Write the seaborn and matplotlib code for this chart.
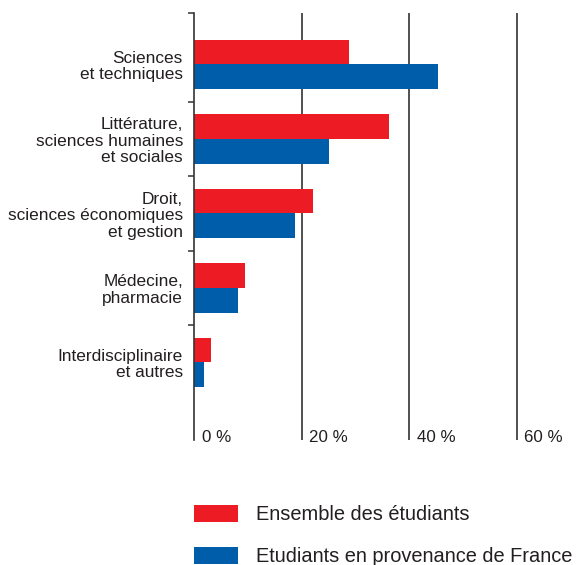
import matplotlib
matplotlib.use("Agg")
import matplotlib.pyplot as plt
import matplotlib.transforms as mtransforms
import seaborn as sns
import pandas as pd

categories = ["Sciences\net techniques",
              "Littérature,\nsciences humaines\net sociales",
              "Droit,\nsciences économiques\net gestion",
              "Médecine,\npharmacie",
              "Interdisciplinaire\net autres"]
series = ["Ensemble des étudiants", "Etudiants en provenance de France"]
ensemble = [28.9, 36.2, 22.1, 9.4, 3.1]
france = [45.4, 25.2, 18.7, 8.1, 1.9]
x_ticks = [0, 20, 40, 60]
x_tick_labels = ["0 %", "20 %", "40 %", "60 %"]
colors = ["#ED1C24", "#005DAA"]

df = pd.DataFrame({
    "cat": categories * 2,
    "serie": [series[0]] * len(categories) + [series[1]] * len(categories),
    "val": ensemble + france,
})

sns.set_theme(style="white")
plt.rcParams["font.family"] = ["Liberation Sans", "DejaVu Sans"]
text_color = "#231F20"

W, H = 578, 565
fig = plt.figure(figsize=(W / 100, H / 100), dpi=100)
ax_left, ax_right, ax_top, ax_bottom = 194, 543.4, 13, 440
ax = fig.add_axes([ax_left / W, 1 - ax_bottom / H,
                   (ax_right - ax_left) / W, (ax_bottom - ax_top) / H])

sns.barplot(data=df, y="cat", x="val", hue="serie", orient="h",
            palette=colors, width=0.66, gap=0, linewidth=0, ax=ax,
            order=categories, hue_order=series, saturation=1)

ax.set_xlim(0, 65)
ax.set_ylim(5.04, -0.69)
for s in ["top", "right", "bottom"]:
    ax.spines[s].set_visible(False)
ax.spines["left"].set_color("#333333")
ax.spines["left"].set_linewidth(1.2)

# gridlines
ax.set_xticks(x_ticks)
ax.set_xticklabels([])
ax.tick_params(axis="x", length=0)
for v in x_ticks[1:]:
    ax.axvline(v, color="#333333", lw=1.2, zorder=0)

# x labels to the right of lines at bottom
for v, lab in zip(x_ticks, x_tick_labels):
    tr = mtransforms.offset_copy(ax.get_xaxis_transform(), fig=fig, x=5.5, y=-1.5, units="points")
    ax.text(v, 0, lab, transform=tr, ha="left", va="baseline",
            fontsize=12.2, color=text_color)

# y ticks: major at boundaries, labels at centers
ax.set_yticks([-0.69, 0.5, 1.5, 2.5, 3.5])
ax.set_yticklabels([])
ax.tick_params(axis="y", which="major", length=4.5, width=1.1, color="#333333", left=True)
ax.set_yticks(range(len(categories)), minor=True)
ax.tick_params(axis="y", which="minor", length=0, pad=8)
ax.set_yticklabels(categories, minor=True, fontsize=12.45, color=text_color,
                   multialignment="right", linespacing=1.12)
ax.set_xlabel("")
ax.set_ylabel("")

handles, labels = ax.get_legend_handles_labels()
ax.get_legend().remove()
fig.legend(handles, labels, loc="upper left",
           bbox_to_anchor=(194 / W, 1 - 505 / H), borderpad=0, borderaxespad=0,
           handlelength=2.2, handleheight=0.9, handletextpad=0.9,
           labelspacing=1.15, fontsize=14.4, frameon=False,
           labelcolor=text_color)

fig.savefig("out.png", dpi=100)
